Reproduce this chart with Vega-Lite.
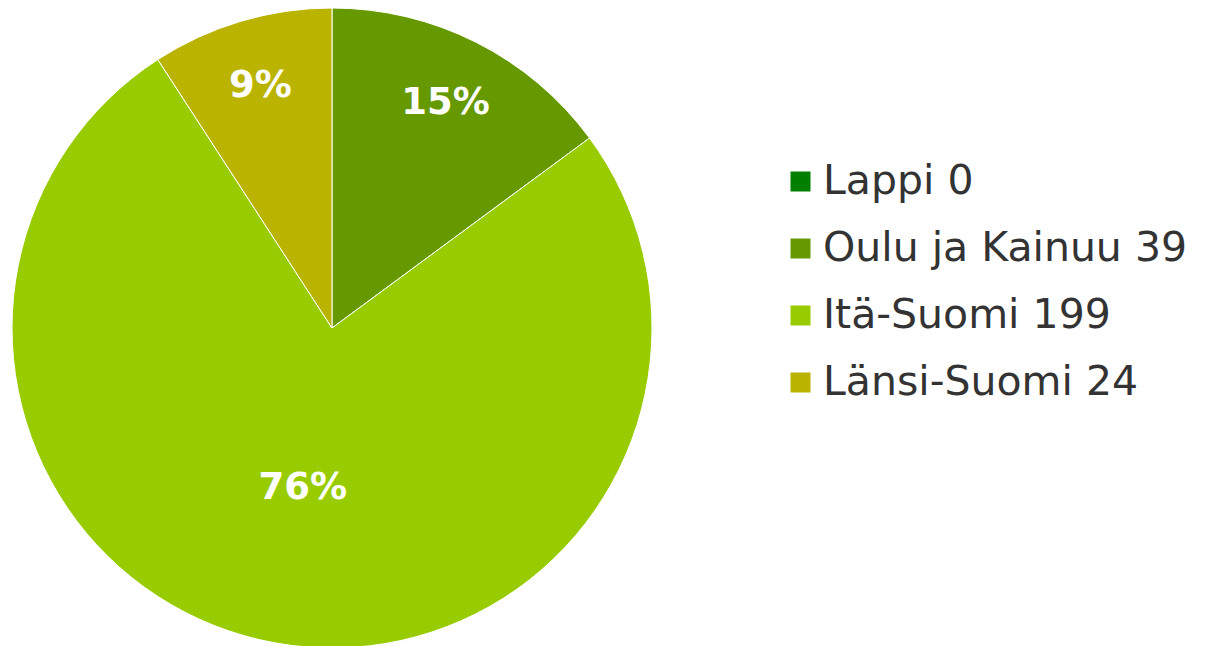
{
  "$schema": "https://vega.github.io/schema/vega-lite/v6.json",
  "width": 640,
  "height": 640,
  "autosize": {"type": "pad"},
  "padding": {"left": 10, "top": 6, "right": 0, "bottom": 0},
  "background": "white",
  "data": {
    "values": [
      {"region": "Lappi", "value": 0, "order": 1},
      {"region": "Oulu ja Kainuu", "value": 39, "order": 2},
      {"region": "Itä-Suomi", "value": 199, "order": 3},
      {"region": "Länsi-Suomi", "value": 24, "order": 4}
    ]
  },
  "transform": [
    {"joinaggregate": [{"op": "sum", "field": "value", "as": "total"}]},
    {"calculate": "datum.value / datum.total", "as": "pct"},
    {"calculate": "datum.region + ' ' + datum.value", "as": "legendLabel"},
    {"stack": "value", "groupby": [], "sort": [{"field": "order", "order": "ascending"}], "as": ["v0", "v1"]},
    {"calculate": "(datum.v0 + datum.v1) / 2", "as": "vmid"}
  ],
  "layer": [
    {
      "mark": {"type": "arc", "outerRadius": 320, "stroke": "white", "strokeWidth": 1},
      "encoding": {
        "theta": {"field": "v0", "type": "quantitative", "stack": null, "scale": {"domain": [0, 262]}},
        "theta2": {"field": "v1"},
        "color": {
          "field": "legendLabel",
          "type": "nominal",
          "sort": ["Lappi 0", "Oulu ja Kainuu 39", "Itä-Suomi 199", "Länsi-Suomi 24"],
          "scale": {
            "domain": ["Lappi 0", "Oulu ja Kainuu 39", "Itä-Suomi 199", "Länsi-Suomi 24"],
            "range": ["#007f00", "#669900", "#99cc00", "#bab400"]
          },
          "legend": {
            "title": null,
            "orient": "none",
            "legendX": 768,
            "legendY": 153,
            "symbolType": "square",
            "symbolSize": 400,
            "symbolStrokeWidth": 0,
            "labelFont": "DejaVu Sans",
            "labelFontSize": 41,
            "labelColor": "#333333",
            "labelOffset": 2,
            "rowPadding": 25,
            "labelLimit": 600
          }
        }
      }
    },
    {
      "transform": [{"filter": "datum.value > 0 && datum.pct < 0.5"}],
      "mark": {"type": "text", "radius": 252, "font": "DejaVu Sans", "fontWeight": "bold", "fontSize": 37, "fill": "white"},
      "encoding": {
        "theta": {"field": "vmid", "type": "quantitative", "stack": null, "scale": {"domain": [0, 262]}},
        "text": {"field": "pct", "type": "quantitative", "format": ".0%"}
      }
    },
    {
      "transform": [{"filter": "datum.pct >= 0.5"}],
      "mark": {"type": "text", "radius": 163, "font": "DejaVu Sans", "fontWeight": "bold", "fontSize": 37, "fill": "white"},
      "encoding": {
        "theta": {"field": "vmid", "type": "quantitative", "stack": null, "scale": {"domain": [0, 262]}},
        "text": {"field": "pct", "type": "quantitative", "format": ".0%"}
      }
    }
  ]
}
